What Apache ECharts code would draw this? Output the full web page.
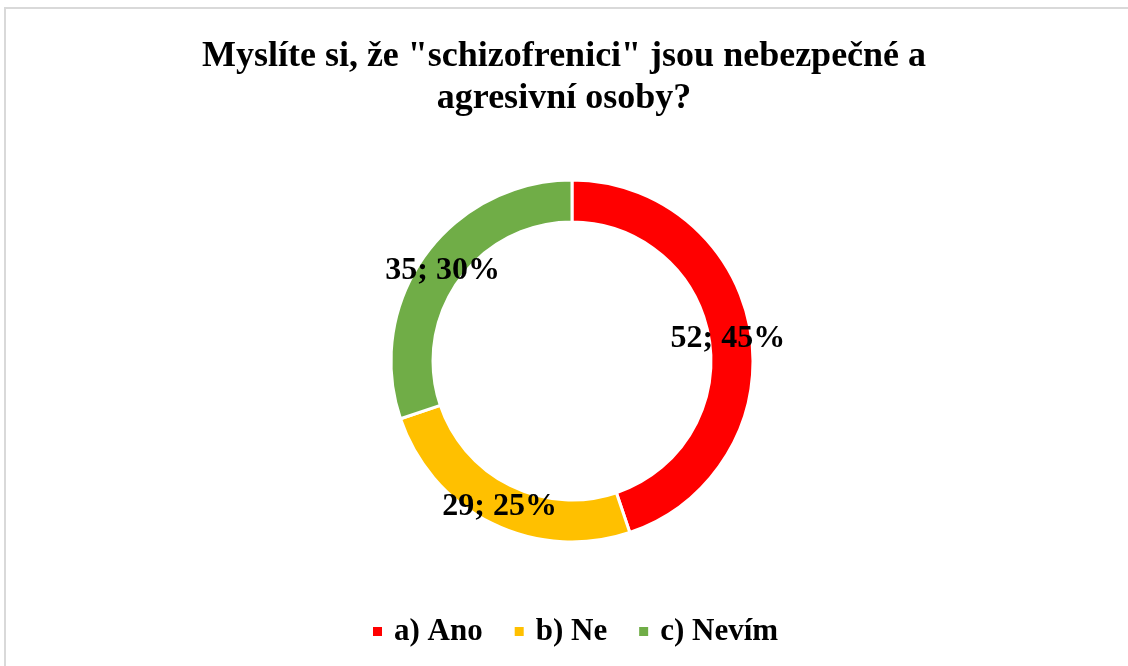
<!DOCTYPE html>
<html>
<head>
<meta charset="utf-8">
<script src="https://cdn.jsdelivr.net/npm/echarts@6/dist/echarts.min.js"></script>
<style>
  html, body { margin: 0; padding: 0; background: #fff; }
  #chart { width: 1128px; height: 666px; }
</style>
</head>
<body>
<div id="chart"></div>
<script>
var titleText = 'Myslíte si, že "schizofrenici" jsou nebezpečné a\nagresivní osoby?';
var categories = ['a) Ano', 'b) Ne', 'c) Nevím'];
var counts = [52, 29, 35];
var percents = [45, 25, 30];
var colors = ['#FF0000', '#FFC000', '#70AD47'];
var labelShift = [[-5, 4], [0, 0], [3, 5]];

var myChart = echarts.init(document.getElementById('chart'));
var pieData = categories.map(function (name, i) {
    return {
        name: name,
        value: counts[i],
        pct: percents[i],
        itemStyle: { color: colors[i] },
        label: { offset: labelShift[i] }
    };
});

var option = {
    backgroundColor: '#ffffff',
    animation: false,
    // 外框
    graphic: [{
        type: 'rect',
        shape: { x: 5, y: 8, width: 1140, height: 680 },
        style: { fill: 'none', stroke: '#d9d9d9', lineWidth: 2 }
    }],
    title: {
        text: titleText,
        left: 'center',
        top: 31,
        textStyle: {
            fontFamily: 'Liberation Serif',
            fontWeight: 'bold',
            fontSize: 36,
            lineHeight: 42,
            color: '#000'
        }
    },
    legend: {
        bottom: 14,
        left: 366,
        icon: 'rect',
        itemWidth: 11,
        itemHeight: 11,
        itemGap: 30,
        data: categories,
        textStyle: {
            fontFamily: 'Liberation Serif',
            fontWeight: 'bold',
            fontSize: 31,
            color: '#000',
            padding: [0, 0, 0, 6]
        }
    },
    series: [{
        type: 'pie',
        center: [572, 361],
        radius: [139, 181],
        startAngle: 90,
        clockwise: true,
        silent: true,
        itemStyle: {
            borderColor: '#ffffff',
            borderWidth: 3
        },
        label: {
            show: true,
            position: 'inside',
            formatter: function (p) {
                return p.value + '; ' + p.data.pct + '%';
            },
            fontFamily: 'Liberation Serif',
            fontWeight: 'bold',
            fontSize: 32,
            color: '#000'
        },
        labelLine: { show: false },
        data: pieData
    }]
};
myChart.setOption(option);
window.addEventListener('resize', function () {
    myChart.resize();
});
</script>
</body>
</html>
